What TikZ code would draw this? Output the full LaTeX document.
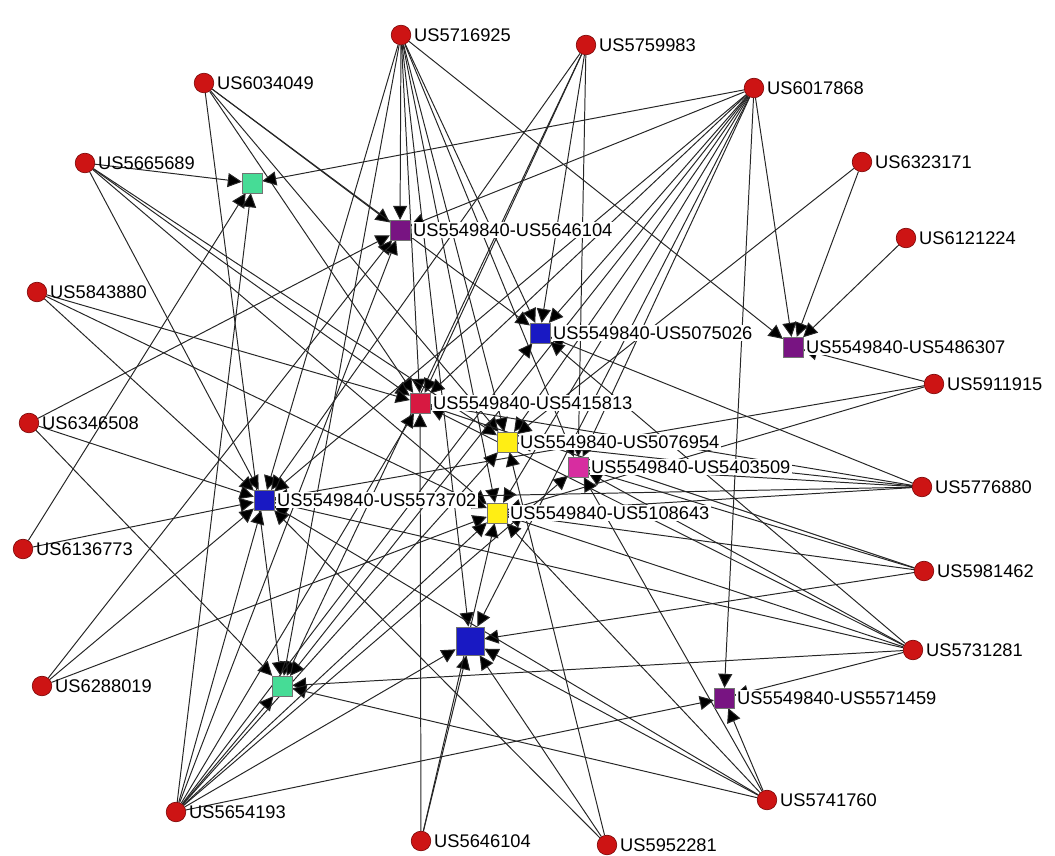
\documentclass[tikz,border=0pt]{standalone}
\usepackage{fontspec}
\setmainfont{Liberation Sans}
\usetikzlibrary{arrows.meta,backgrounds}

\definecolor{mint}{RGB}{70,220,150}
\definecolor{plum}{RGB}{120,20,130}
\definecolor{royal}{RGB}{25,25,195}
\definecolor{crimson}{RGB}{215,25,65}
\definecolor{lemon}{RGB}{255,238,20}
\definecolor{pink}{RGB}{215,45,160}
\definecolor{dot}{RGB}{205,20,20}

\begin{document}
\begin{tikzpicture}[
        x=0.025cm, y=-0.025cm,
        every label/.style={font=\fontsize{13}{13}\selectfont, inner sep=1pt, label distance=1pt},
        patent/.style={circle, draw=red!45!black, fill=dot, inner sep=0pt, minimum size=14pt,
            label={right:#1}},
        pair/.style={rectangle, draw=black!55, fill=#1, inner sep=0pt, minimum size=14pt},
        tag/.style={fill=white, inner sep=1pt},
        edge/.style={draw=black!85, line width=0.7pt, -{Triangle[length=10pt,width=10pt,fill=black]}}
        ]
        \useasboundingbox (0,0) rectangle (1055,856);
        % patents round the rim
        \node[patent=US5716925] (p5716925) at (401,35) {};
        \node[patent=US5759983] (p5759983) at (586,45) {};
        \node[patent=US6034049] (p6034049) at (204,83) {};
        \node[patent=US6017868] (p6017868) at (754,88) {};
        \node[patent=US5665689] (p5665689) at (85,163) {};
        \node[patent=US6323171] (p6323171) at (862,162) {};
        \node[patent=US6121224] (p6121224) at (906,238) {};
        \node[patent=US5843880] (p5843880) at (37,292) {};
        \node[patent=US5911915] (p5911915) at (934,384) {};
        \node[patent=US6346508] (p6346508) at (29,423) {};
        \node[patent=US5776880] (p5776880) at (922,487) {};
        \node[patent=US6136773] (p6136773) at (23,549) {};
        \node[patent=US5981462] (p5981462) at (924,571) {};
        \node[patent=US5731281] (p5731281) at (913,650) {};
        \node[patent=US6288019] (p6288019) at (42,686) {};
        \node[patent=US5741760] (p5741760) at (767,800) {};
        \node[patent=US5654193] (p5654193) at (176,812) {};
        \node[patent=US5646104] (p5646104) at (421,841) {};
        \node[patent=US5952281] (p5952281) at (607,845) {};
        % pairs in the middle
        \node[pair=mint] (mintA) at (252,183) {};
        \node[pair=plum, label={[tag]right:US5549840-US5646104}] (s5646104) at (400,230) {};
        \node[pair=royal, label={[tag]right:US5549840-US5075026}] (s5075026) at (540,333) {};
        \node[pair=plum, label={[tag]right:US5549840-US5486307}] (s5486307) at (793,347) {};
        \node[pair=crimson, label={[tag]right:US5549840-US5415813}] (s5415813) at (420,403) {};
        \node[pair=lemon, label={[tag]right:US5549840-US5076954}] (s5076954) at (507,442) {};
        \node[pair=pink, label={[tag]right:US5549840-US5403509}] (s5403509) at (578,467) {};
        \node[pair=royal, label={[tag]right:US5549840-US5573702}] (s5573702) at (264,500) {};
        \node[pair=lemon, label={[tag]right:US5549840-US5108643}] (s5108643) at (497,513) {};
        \node[pair=royal, minimum size=20pt] (royalC) at (470,641) {};
        \node[pair=mint] (mintB) at (282,686) {};
        \node[pair=plum, label={[tag]right:US5549840-US5571459}] (s5571459) at (724,698) {};
        % citations
        \begin{pgfonlayer}{background}
        \foreach \s/\t in {
            p5716925/s5646104, p5716925/s5075026, p5716925/s5415813, p5716925/s5076954,
            p5716925/s5108643, p5716925/s5573702, p5716925/mintB, p5716925/s5486307,
            p5716925/s5403509, p5716925/royalC,
            p5759983/s5075026, p5759983/s5403509, p5759983/s5573702, p5759983/mintB,
            p5759983/s5415813,
            p6034049/mintB, p6034049/s5646104, p6034049/s5415813, p6034049/s5076954,
            p6034049/s5075026,
            p6017868/mintA, p6017868/s5646104, p6017868/s5075026, p6017868/s5415813,
            p6017868/s5076954, p6017868/s5108643, p6017868/s5403509, p6017868/s5573702,
            p6017868/royalC, p6017868/s5486307, p6017868/s5571459, p6017868/mintB,
            p5665689/mintA, p5665689/s5415813, p5665689/s5108643, p5665689/s5076954,
            p5665689/s5573702,
            p6323171/s5486307, p6323171/s5076954,
            p6121224/s5486307,
            p5843880/s5415813, p5843880/s5108643, p5843880/s5573702,
            p5911915/s5486307, p5911915/s5573702, p5911915/s5108643,
            p6346508/s5646104, p6346508/s5573702, p6346508/mintB,
            p5776880/s5415813, p5776880/s5075026, p5776880/s5076954, p5776880/s5108643,
            p5776880/s5403509, p5776880/s5573702,
            p6136773/mintA, p6136773/s5573702,
            p5981462/s5108643, p5981462/s5403509, p5981462/s5415813, p5981462/royalC,
            p5731281/s5573702, p5731281/s5108643, p5731281/s5403509, p5731281/mintB,
            p5731281/s5075026, p5731281/s5571459, p5731281/s5415813,
            p6288019/s5573702, p6288019/s5108643, p6288019/s5646104,
            p5741760/s5571459, p5741760/s5108643, p5741760/s5403509, p5741760/royalC,
            p5741760/mintB, p5741760/s5573702,
            p5654193/mintB, p5654193/s5573702, p5654193/s5415813, p5654193/s5076954,
            p5654193/s5108643, p5654193/s5075026, p5654193/s5403509, p5654193/s5646104,
            p5654193/s5571459, p5654193/royalC, p5654193/mintA,
            p5646104/royalC, p5646104/s5415813, p5646104/s5108643,
            p5952281/s5076954, p5952281/royalC, p5952281/s5573702} {
            \draw[edge] (\s) -- (\t);
        }
        \end{pgfonlayer}
    \end{tikzpicture}
\end{document}
